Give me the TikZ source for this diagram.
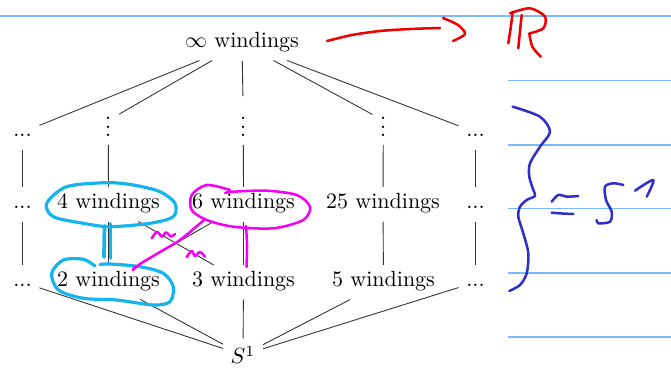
\documentclass[tikz,border=0pt]{standalone}
\definecolor{ruleblue}{RGB}{122,186,250}
\definecolor{cyanpen}{RGB}{22,180,236}
\definecolor{magpen}{RGB}{245,0,245}
\definecolor{redpen}{RGB}{240,0,0}
\definecolor{bluepen}{RGB}{48,48,200}
\begin{document}
\begin{tikzpicture}[x=0.4545pt,y=-0.4545pt,
  lbl/.style={anchor=base, text height=1.5ex, text depth=0.5ex, inner sep=0.3333em},
  vd/.style={anchor=base, inner sep=0.3333em},
  ln/.style={draw=black!80, line width=0.4pt},
  rulel/.style={draw=ruleblue, line width=0.6pt},
  pen/.style={line width=1.15pt, line cap=round, line join=round},
  thickpen/.style={line width=1.45pt, line cap=round, line join=round},
]
\useasboundingbox (0,0) rectangle (671,369);
\fill[white] (0,0) rectangle (671,369);

% ruled lines
\draw[rulel] (0,16) -- (671,16);
\foreach \yy in {80.7,145,208.3,273,337} \draw[rulel] (508,\yy) -- (671,\yy);

% nodes
\node[lbl] (inf) at (242,48) {$\infty$ windings};
\node[lbl] (a1) at (22.5,137) {...};
\node[vd]  (b1) at (108.3,137) {$\vdots$};
\node[vd]  (c1) at (243.3,137) {$\vdots$};
\node[vd]  (d1) at (383.3,137) {$\vdots$};
\node[lbl] (e1) at (475.5,137) {...};

\node[lbl] (a2) at (22.5,209) {...};
\node[lbl] (n4) at (108.5,209) {4 windings};
\node[lbl] (n6) at (243.5,209) {6 windings};
\node[lbl] (n25) at (383,209) {25 windings};
\node[lbl] (e2) at (475.5,209) {...};

\node[lbl] (a3) at (22.5,287) {...};
\node[lbl] (n2) at (108.5,287) {2 windings};
\node[lbl] (n3) at (243.5,287) {3 windings};
\node[lbl] (n5) at (383.5,287) {5 windings};
\node[lbl] (e3) at (475.5,287) {...};

\node[vd] (s) at (243,364) {$S^1$};

% connectors
\foreach \t in {a1,b1,c1,d1,e1} \draw[ln] (inf) -- (\t);
\draw[ln] (a1) -- (a2);
\draw[ln] (b1) -- (n4);
\draw[ln] (c1) -- (n6);
\draw[ln] (d1) -- (n25);
\draw[ln] (e1) -- (e2);
\draw[ln] (a2) -- (a3);
\draw[ln] (n4) -- (n2);
\draw[ln] (n4) -- (n3);
\draw[ln] (n6) -- (n2);
\draw[ln] (n6) -- (n3);
\draw[ln] (n25) -- (n5);
\draw[ln] (e2) -- (e3);
\foreach \t in {a3,n2,n3,n5,e3} \draw[ln] (\t) -- (s);

% red annotation: arrow to R
\draw[redpen,pen] plot[smooth] coordinates {(327,41) (352,35) (380,31) (410,29) (440,28)};
\draw[redpen,pen] plot[smooth] coordinates {(443,18) (458,25) (465,34) (453,41)};
\draw[redpen,pen] plot[smooth] coordinates {(512.7,11.7) (510.8,27) (508.3,43.3)};
\draw[redpen,pen] plot[smooth] coordinates {(521.7,15) (520,31) (518.3,48.3)};
\draw[redpen,pen] plot[smooth] coordinates {(510,13.3) (530,8.3) (545,16.7) (543.3,28.3) (530,33.3)};
\draw[redpen,pen] plot[smooth] coordinates {(529.3,33.3) (532.3,46.7) (540.7,56.7)};

% dark blue brace and "~= S^1"
\draw[bluepen,pen] plot[smooth] coordinates {(512.7,106.7) (540,116.7) (550,131.7) (540,146.7) (530,163.3) (529.3,176.7) (533.3,190) (535,196) (526.7,200) (520,206.7) (518.3,216.7) (523.3,233.3) (528.3,253.3) (526.7,273.3) (520,285) (509.3,291)};
\draw[bluepen,pen] plot[smooth] coordinates {(551.7,201.7) (558.3,195) (566.7,196.7) (578.3,196)};
\draw[bluepen,pen] plot[smooth] coordinates {(551.7,212.7) (562,213.5) (573.3,214)};
\draw[bluepen,pen] plot[smooth] coordinates {(623.3,185) (613.3,183.3) (605,186.7) (606,200) (611.7,211.7) (610,221.7) (598.3,223.3) (596.7,220)};
\draw[bluepen,pen] plot[smooth] coordinates {(635,190.7) (653.3,180) (646.7,196.7)};

% cyan annotations
\draw[cyanpen,thickpen] plot[smooth cycle] coordinates {(106.7,182.7) (66.7,186.7) (46.7,203.3) (53.3,216.7) (83.3,223.3) (110,226.7) (150,223.3) (173.3,216.7) (175,203.3) (160,191.7) (133.3,185)};
\draw[cyanpen,thickpen] plot[smooth] coordinates {(95,266) (83.3,259.3) (63.3,260) (51.7,273.3) (58.3,290) (83.3,298.3) (116.7,300) (153.3,305) (170,301.7) (173.3,286.7) (163.3,273.3) (140,266.7) (110,264) (100,264.5)};
\draw[cyanpen,line width=1.7pt,line cap=round] (104.5,226) -- (104,257);
\draw[cyanpen,line width=1.7pt,line cap=round] (110.5,224) -- (110.5,258);

% magenta annotations
\draw[magpen,pen] plot[smooth] coordinates {(230,190) (206.7,185) (191.7,195) (191.7,210) (206.7,220) (233.3,226.7) (273.3,228.3) (303.3,220) (310,206.7) (296.7,195) (266.7,190.7) (233.3,191.7) (225,193)};
\draw[magpen,pen] plot[smooth] coordinates {(246,226) (247,245) (246.5,267)};
\draw[magpen,pen] plot[smooth] coordinates {(204,220) (180,240) (160,252) (140,264) (133,270) (135,267)};
\draw[magpen,pen] plot[smooth] coordinates {(151.7,238.3) (157,232) (162,236.7) (166,232.5) (171,236.5) (175,234)};
\draw[magpen,pen] plot[smooth] coordinates {(186.7,257) (191.7,251) (195,256) (200,252) (205,256.7)};
\end{tikzpicture}
\end{document}
